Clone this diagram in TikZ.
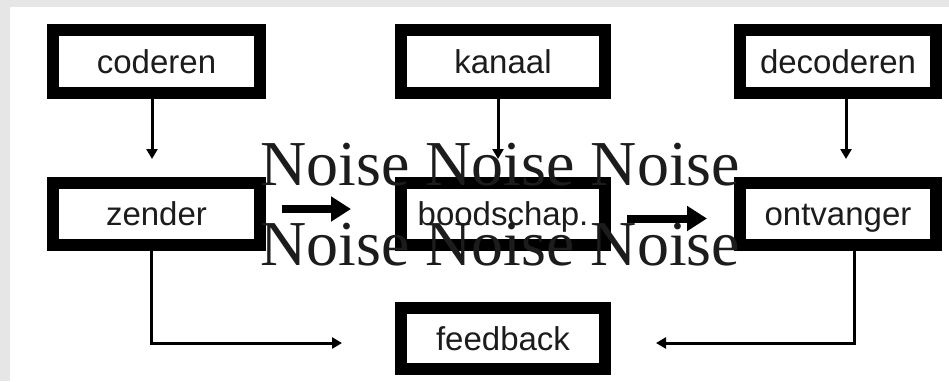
\documentclass[tikz,border=0pt]{standalone}
\usepackage{fontspec}
\setmainfont{Liberation Sans}
\newfontfamily\noisefont{Liberation Serif}
\usetikzlibrary{arrows.meta}

\definecolor{frame}{HTML}{E6E6E6}
\definecolor{ink}{HTML}{1C1C1C}

\tikzset{
  blok/.style={draw=black, line width=12pt, inner sep=0pt, text=ink,
    font=\fontsize{33}{40}\selectfont, text height=23.5pt, text depth=0pt},
  colA/.style={minimum width=207pt},
  colB/.style={minimum width=204pt},
  colC/.style={minimum width=196pt},
  rowA/.style={minimum height=63pt},
  rowB/.style={minimum height=62pt},
  rowC/.style={minimum height=61pt},
  thinarrow/.style={draw=black, line width=3pt, -{Triangle[length=10pt,width=11pt]}},
  thickarrow/.style={draw=black, line width=8pt, -{Triangle[length=20pt,width=24pt]}},
  noisetext/.style={inner sep=0pt, anchor=base west, text=ink,
    font=\noisefont\fontsize{64}{80}\selectfont}
}

\begin{document}
\begin{tikzpicture}[x=1pt, y=-1pt]
  % page: grey frame with a white panel
  \fill[frame] (0,0) rectangle (949,381);
  \fill[white] (10,7) rectangle (949,381);
  \useasboundingbox (0,0) rectangle (949,381);

  % top row
  \node[blok, colA, rowA] (coderen)   at (156.5,61.5) {coderen};
  \node[blok, colB, rowA] (kanaal)    at (503,61.5)   {kanaal};
  \node[blok, colC, rowA] (decoderen) at (838,61.5)   {decoderen};

  % middle row
  \node[blok, colA, rowB] (zender)    at (156.5,214)  {zender};
  \node[blok, colB, rowB] (boodschap) at (503,214)    {boodschap.};
  \node[blok, colC, rowB] (ontvanger) at (838,214)    {ontvanger};

  % bottom row
  \node[blok, colB, rowC] (feedback)  at (503,338.5)  {feedback};

  % downward arrows
  \draw[thinarrow, shorten >=18pt] ([xshift=-4.5pt]coderen.south) -- ([xshift=-4.5pt]coderen.south |- zender.north);
  \draw[thinarrow, shorten >=18pt] ([xshift=-5pt]kanaal.south) -- ([xshift=-5pt]kanaal.south |- boodschap.north);
  \draw[thinarrow, shorten >=18pt] ([xshift=8pt]decoderen.south) -- ([xshift=8pt]decoderen.south |- ontvanger.north);

  % message flow
  \draw[thickarrow, shorten <=16pt, shorten >=44pt] ([yshift=5pt]zender.east) -- ([yshift=5pt]zender.east -| boodschap.west);
  \draw[thickarrow, shorten <=16pt, shorten >=27pt] ([yshift=-4.5pt]boodschap.east) -- ([yshift=-4.5pt]boodschap.east -| ontvanger.west);

  % feedback loops
  \draw[thinarrow, shorten >=53pt] ([xshift=-5pt]zender.south) |- ([yshift=-4.5pt]feedback.west);
  \draw[thinarrow, shorten >=45pt] ([xshift=16pt]ontvanger.south) |- ([yshift=-4.5pt]feedback.east);

  % noise overlay
  \node[noisetext] (noise1) at (260,185) {Noise Noise Noise};
  \node[noisetext] (noise2) at (260,265) {Noise Noise Noise};
\end{tikzpicture}
\end{document}
